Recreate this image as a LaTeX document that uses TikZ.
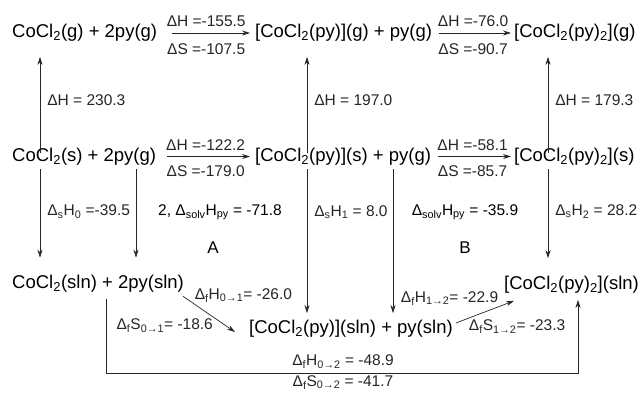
\documentclass[tikz,border=0pt]{standalone}
\usepackage{fontspec}
\setmainfont{Liberation Sans}
\usetikzlibrary{arrows.meta,positioning}

\newcommand{\sbs}[1]{\textsubscript{#1}}

\begin{document}
\begin{tikzpicture}[
    x=1bp, y=-1bp,
    species/.style={anchor=west, inner xsep=1bp, inner ysep=4bp, font=\fontsize{18.5bp}{21bp}\selectfont},
    lbl/.style={inner sep=1bp, font=\fontsize{15.5bp}{18bp}\selectfont},
    tag/.style={font=\fontsize{17bp}{20bp}\selectfont},
    rxn/.style={-{Stealth[length=8bp,width=5bp]}, line width=0.7bp, black!85},
    leftstep/.style={rxn, shorten <=14bp, shorten >=4bp},
    rightstep/.style={rxn, shorten <=6bp, shorten >=2bp},
    upline/.style={rxn, shorten <=-9bp, shorten >=11bp},
    downline/.style={rxn, shorten >=13bp}
]
\useasboundingbox (0,0) rectangle (639,393);

% gas
\node[species] (g0) at (11,33) {CoCl\sbs{2}(g) + 2py(g)};
\node[species] (g1) at (254,33) {[CoCl\sbs{2}(py)](g) + py(g)};
\node[species] (g2) at (513,33) {[CoCl\sbs{2}(py)\sbs{2}](g)};
% solid
\node[species] (s0) at (11,156.5) {CoCl\sbs{2}(s) + 2py(g)};
\node[species] (s1) at (254,156.5) {[CoCl\sbs{2}(py)](s) + py(g)};
\node[species] (s2) at (513,156.5) {[CoCl\sbs{2}(py)\sbs{2}](s)};
% solution
\node[species] (l0) at (11,283.5) {CoCl\sbs{2}(sln) + 2py(sln)};
\node[species] (l1) at (248,329) {[CoCl\sbs{2}(py)](sln) + py(sln)};
\node[species] (l2) at (503,285) {[CoCl\sbs{2}(py)\sbs{2}](sln)};

\coordinate (ca) at (40,0);
\coordinate (cb) at (136,0);
\coordinate (cc) at (307,0);
\coordinate (cd) at (393,0);
\coordinate (ce) at (548,0);
\coordinate (cf) at (106,0);
\coordinate (cg) at (578,0);
\coordinate (bot) at (343,373);

% horizontal steps
\draw[leftstep] (g0) -- (g1)
    node[lbl, midway, above=5bp] {ΔH =-155.5}
    node[lbl, midway, below=9bp] {ΔS =-107.5};
\draw[rightstep] (g1) -- (g2)
    node[lbl, midway, above=5bp] {ΔH =-76.0}
    node[lbl, midway, below=9bp] {ΔS =-90.7};
\draw[leftstep, shorten <=10bp] (s0) -- (s1)
    node[lbl, midway, above=5bp] {ΔH =-122.2}
    node[lbl, midway, below=8bp] {ΔS =-179.0};
\draw[rightstep] (s1) -- (s2)
    node[lbl, midway, above=5bp] {ΔH =-58.1}
    node[lbl, midway, below=8bp] {ΔS =-85.7};

% sublimation
\draw[upline] (s0.north -| ca) -- (g0.south -| ca)
    node[lbl, pos=0.44, right=6bp] {ΔH = 230.3};
\draw[upline] (s1.north -| cc) -- (g1.south -| cc)
    node[lbl, pos=0.44, right=6bp] {ΔH = 197.0};
\draw[upline] (s2.north -| ce) -- (g2.south -| ce)
    node[lbl, pos=0.44, right=6bp] {ΔH = 179.3};

% solvation
\draw[downline] (s0.south -| ca) -- (l0.north -| ca)
    node[lbl, pos=0.42, right=6bp] {Δ\sbs{s}H\sbs{0} =-39.5};
\draw[downline] (s0.south -| cb) -- (l0.north -| cb);
\draw[downline, shorten >=3bp] (s1.south -| cc) -- (l1.north -| cc)
    node[lbl, pos=0.29, right=6bp] {Δ\sbs{s}H\sbs{1} = 8.0};
\draw[downline, shorten >=3bp] (s1.south -| cd) -- (l1.north -| cd);
\draw[downline, shorten >=14bp] (s2.south -| ce) -- (l2.north -| ce)
    node[lbl, pos=0.41, right=6bp] {Δ\sbs{s}H\sbs{2} = 28.2};

\node[lbl] (solvA) at (220,212) {2, Δ\sbs{solv}H\sbs{py} = -71.8};
\node[lbl] (solvB) at (465,212) {Δ\sbs{solv}H\sbs{py} = -35.9};
\node[tag] (A) at (213,248) {A};
\node[tag] (B) at (465,248) {B};

% in solution
\draw[rxn] ([xshift=-2bp]l0.south east) -- ([xshift=-13bp,yshift=-3bp]l1.west)
    node[lbl, pos=0.2, anchor=south west] {Δ\sbs{f}H\sbs{0→1}= -26.0}
    node[lbl, pos=0.6, anchor=north east] {Δ\sbs{f}S\sbs{0→1}= -18.6};
\draw[rxn] ([xshift=2bp,yshift=6bp]l1.east) -- ([xshift=11bp,yshift=-3bp]l2.south west)
    node[lbl, pos=0.75, anchor=south east] {Δ\sbs{f}H\sbs{1→2}= -22.9}
    node[lbl, pos=0.2, anchor=north west] {Δ\sbs{f}S\sbs{1→2}= -23.3};
\draw[rxn, shorten <=3bp, shorten >=2bp] (l0.south -| cf) |- (bot)
    node[lbl, above=3bp] {Δ\sbs{f}H\sbs{0→2} = -48.9}
    node[lbl, below=1bp] {Δ\sbs{f}S\sbs{0→2} = -41.7}
    -| (l2.south -| cg);
\end{tikzpicture}
\end{document}
